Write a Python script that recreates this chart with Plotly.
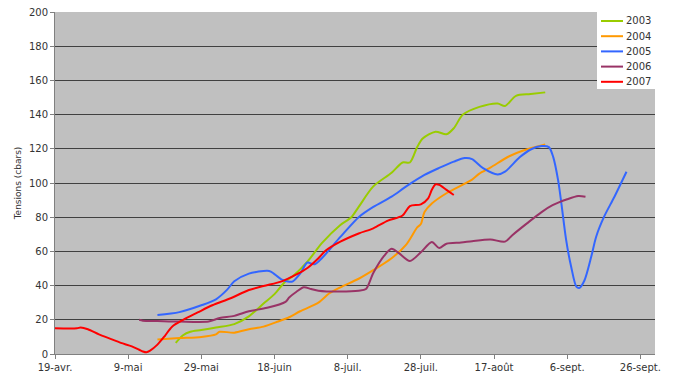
import plotly.graph_objects as go

# ---------------- data ----------------
dates_2003 = ["2007-05-22", "2007-05-24", "2007-05-26", "2007-05-29", "2007-06-02", "2007-06-07",
              "2007-06-11", "2007-06-15", "2007-06-18", "2007-06-21", "2007-06-23", "2007-06-27",
              "2007-07-01", "2007-07-06", "2007-07-09", "2007-07-11", "2007-07-15", "2007-07-20",
              "2007-07-23", "2007-07-25", "2007-07-27", "2007-07-28 12:00", "2007-08-01", "2007-08-04",
              "2007-08-06", "2007-08-08 12:00", "2007-08-13", "2007-08-18", "2007-08-20", "2007-08-23",
              "2007-08-27", "2007-08-31"]
vals_2003 = [6.5, 11, 13, 14, 15.5, 17.5,
             22, 29.5, 35, 42.5, 45.5, 54,
             65, 75.5, 80, 86, 98, 106,
             112, 112, 121, 126, 130, 128.5,
             132, 140, 144.5, 146.5, 145, 151,
             152, 153]

dates_2004 = ["2007-05-17", "2007-05-23", "2007-05-29", "2007-06-02", "2007-06-03", "2007-06-07",
              "2007-06-11", "2007-06-15", "2007-06-19", "2007-06-22", "2007-06-25", "2007-06-30",
              "2007-07-03", "2007-07-06", "2007-07-11", "2007-07-15", "2007-07-20", "2007-07-24",
              "2007-07-27", "2007-07-28", "2007-07-29", "2007-07-31", "2007-08-04", "2007-08-11",
              "2007-08-13", "2007-08-16", "2007-08-21", "2007-08-25", "2007-08-31"]
vals_2004 = [8.5, 9.3, 10, 11.5, 13, 12.5,
             14.5, 16, 19, 21.5, 25, 30,
             35.5, 39, 44, 49, 56, 64,
             74, 76, 83, 88, 94, 102,
             105.5, 109, 115.5, 119, 122.5]

dates_2005 = ["2007-05-17", "2007-05-23", "2007-05-29", "2007-06-02", "2007-06-05", "2007-06-07",
              "2007-06-11", "2007-06-16", "2007-06-17", "2007-06-20", "2007-06-22", "2007-06-23",
              "2007-06-25", "2007-06-27", "2007-06-29", "2007-07-06", "2007-07-11", "2007-07-15",
              "2007-07-20", "2007-07-24", "2007-07-29", "2007-08-02", "2007-08-06", "2007-08-09",
              "2007-08-11", "2007-08-14", "2007-08-18", "2007-08-20", "2007-08-24", "2007-08-27",
              "2007-08-30", "2007-09-01", "2007-09-02 05:00", "2007-09-03 12:00", "2007-09-04 10:00",
              "2007-09-05 17:00", "2007-09-07 02:00", "2007-09-08 12:00", "2007-09-09 07:00",
              "2007-09-10 17:00", "2007-09-12 14:00", "2007-09-13 22:00", "2007-09-16 02:00",
              "2007-09-18 22:00", "2007-09-22 05:00"]
vals_2005 = [22.8, 24.5, 28.5, 32, 37.5, 42.5,
             47, 48.7, 48.2, 43.5, 42.3, 42.5,
             47, 53.5, 52.5, 68.5, 80, 86,
             92, 98, 104.7, 108.8, 112.5, 114.6,
             114, 108.7, 105, 106.6, 115, 119.6,
             121.6, 121, 115, 101.8, 88,
             66.7, 51, 39.4, 38.6,
             43, 57, 68.6, 80.3,
             92, 106.6]

dates_2006 = ["2007-05-12", "2007-05-13", "2007-05-17", "2007-05-23", "2007-05-31", "2007-06-03",
              "2007-06-07", "2007-06-11", "2007-06-16", "2007-06-21", "2007-06-22", "2007-06-24",
              "2007-06-26", "2007-06-28", "2007-06-30", "2007-07-06", "2007-07-11", "2007-07-13",
              "2007-07-15", "2007-07-18", "2007-07-20", "2007-07-22", "2007-07-25", "2007-07-28",
              "2007-07-31", "2007-08-02", "2007-08-04", "2007-08-08", "2007-08-11", "2007-08-16",
              "2007-08-20", "2007-08-22", "2007-08-26", "2007-08-30", "2007-09-02", "2007-09-06",
              "2007-09-09", "2007-09-11"]
vals_2006 = [20, 19.5, 19.3, 19, 19, 21,
             22.3, 25, 27, 30.5, 33, 36.4,
             39, 38, 37, 36.5, 37, 38,
             47.4, 57.5, 61.5, 59, 54.4, 59.5,
             65.5, 62, 64.5, 65.2, 66, 67,
             65.7, 69.5, 76.4, 83, 87, 90.5,
             92.4, 92]

dates_2007 = ["2007-04-19", "2007-04-25", "2007-04-26", "2007-04-28", "2007-05-01", "2007-05-04",
              "2007-05-07", "2007-05-10", "2007-05-12", "2007-05-13", "2007-05-14", "2007-05-15",
              "2007-05-17", "2007-05-19", "2007-05-21", "2007-05-24", "2007-05-28", "2007-06-01",
              "2007-06-06", "2007-06-11", "2007-06-15", "2007-06-20", "2007-06-24", "2007-06-27",
              "2007-06-30", "2007-07-02", "2007-07-06", "2007-07-11", "2007-07-15", "2007-07-19",
              "2007-07-23", "2007-07-25", "2007-07-28", "2007-07-30", "2007-07-31", "2007-08-01",
              "2007-08-02", "2007-08-04", "2007-08-06"]
vals_2007 = [15, 15, 15.5, 14.5, 11.5, 9,
             6.5, 4.5, 2.5, 1.5, 1, 2,
             5.5, 10.5, 16, 20, 24.3, 28.5,
             32.6, 37.4, 39.8, 42.5, 46.5, 50.3,
             56, 60.5, 65.7, 70.5, 73.5, 78,
             81, 86.5, 87.5, 91, 96, 99.2,
             99, 96, 93]

series_names = ["2003", "2004", "2005", "2006", "2007"]
series_colors = ["#99CC00", "#FF9900", "#3366FF", "#993366", "#FF0000"]

tick_dates = ["2007-04-19", "2007-05-09", "2007-05-29", "2007-06-18", "2007-07-08",
              "2007-07-28", "2007-08-17", "2007-09-06", "2007-09-26"]
tick_labels = ["19-avr.", "9-mai", "29-mai", "18-juin", "8-juil.",
               "28-juil.", "17-août", "6-sept.", "26-sept."]

y_title = "Tensions (cbars)"

# ---------------- layout constants (page pixels) ----------------
PAGE_W, PAGE_H = 680, 380
BODY = 8                                   # default page margin around the plot div
W, H = PAGE_W - BODY, PAGE_H - BODY
PL, PR, PT, PB = 55, 655, 12, 354          # plot area edges on the page
font_family = "DejaVu Sans, Verdana, sans-serif"
text_color = "#333333"


def px_x(px):
    return (px - PL) / (PR - PL)


def px_y(py):
    return (PB - py) / (PB - PT)


# ---------------- figure ----------------
all_x = [dates_2003, dates_2004, dates_2005, dates_2006, dates_2007]
all_y = [vals_2003, vals_2004, vals_2005, vals_2006, vals_2007]

fig = go.Figure()
for name, color, xs, ys in zip(series_names, series_colors, all_x, all_y):
    fig.add_trace(go.Scatter(
        x=xs, y=ys, name=name, mode="lines",
        line=dict(color=color, width=2, shape="spline", smoothing=0.8),
        showlegend=False,
    ))

# compact legend (box, line samples, labels) matching the original spacing
shapes = [dict(type="rect", xref="paper", yref="paper",
               x0=px_x(597), x1=1, y0=px_y(89), y1=1,
               fillcolor="white", line=dict(width=0), layer="above")]
annotations = []
for i, (name, color) in enumerate(zip(series_names, series_colors)):
    cy = 21 + 15.2 * i
    shapes.append(dict(type="line", xref="paper", yref="paper",
                       x0=px_x(601), x1=px_x(623), y0=px_y(cy), y1=px_y(cy),
                       line=dict(color=color, width=2), layer="above"))
    annotations.append(dict(xref="paper", yref="paper", x=px_x(624), y=px_y(cy),
                            xanchor="left", yanchor="middle", showarrow=False,
                            text=name, font=dict(family=font_family, size=10, color=text_color)))

fig.update_layout(
    width=W, height=H,
    margin=dict(l=PL - BODY, r=PAGE_W - PR, t=PT - BODY, b=PAGE_H - PB, autoexpand=False),
    paper_bgcolor="white",
    plot_bgcolor="#C0C0C0",
    font=dict(family=font_family, size=10, color=text_color),
    showlegend=False,
    shapes=shapes,
    annotations=annotations,
    xaxis=dict(
        type="date",
        range=["2007-04-19", "2007-09-30"],
        tickmode="array", tickvals=tick_dates, ticktext=tick_labels,
        showgrid=False, zeroline=False, automargin=False,
        showline=True, linecolor="#808080", linewidth=1,
        ticks="outside", ticklen=4, tickcolor="#808080",
        tickfont=dict(size=10, color=text_color),
        ticklabeloverflow="allow",
    ),
    yaxis=dict(
        range=[0, 200], dtick=20, tick0=0,
        showgrid=True, gridcolor="#404040", gridwidth=1,
        zeroline=False, automargin=False,
        showline=True, linecolor="#808080", linewidth=1,
        ticks="outside", ticklen=4, tickcolor="#808080",
        tickfont=dict(size=10, color=text_color),
        ticklabeloverflow="allow",
        title=dict(text=y_title, font=dict(size=9, color=text_color), standoff=5),
    ),
)

fig.write_html("out.html")
